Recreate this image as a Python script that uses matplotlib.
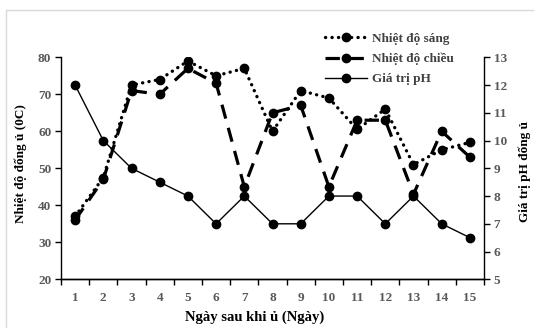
import matplotlib
matplotlib.use("Agg")
import matplotlib.pyplot as plt
from matplotlib.patches import Rectangle

# Data
days = list(range(1, 16))
sang = [37, 47.5, 72.5, 74, 79, 75, 77, 60, 71, 69, 60.5, 66, 51, 55, 57]
chieu = [36, 47, 71, 70, 77, 73, 45, 65, 67, 45, 63, 63, 43, 60, 53]
ph = [12, 10, 9, 8.5, 8, 7, 8, 7, 7, 8, 8, 7, 8, 7, 6.5]

plt.rcParams["font.family"] = ["Liberation Serif", "DejaVu Serif"]
plt.rcParams["font.weight"] = "bold"
tick_col = "#595959"

fig = plt.figure(figsize=(5.34, 3.28), dpi=100)

# light chart-area border
fig.patches.append(Rectangle((6 / 534, -0.05), 1.0, 1 - 10 / 328 + 0.05,
                             transform=fig.transFigure, fill=False,
                             edgecolor="#d9d9d9", linewidth=1.0))

ax1 = fig.add_axes([61 / 534, (328 - 279.3) / 328, 423 / 534, 222 / 328])
ax2 = ax1.twinx()

ax1.plot(days, sang, color="black", linestyle=(0, (0.05, 1.9)), linewidth=2.4,
         marker="o", markersize=6, dash_capstyle="round", label="Nhiệt độ sáng")
ax1.plot(days, chieu, color="black", linestyle=(0, (4.5, 3.0)), linewidth=2.3,
         marker="o", markersize=6, label="Nhiệt độ chiều")
ax2.plot(days, ph, color="black", linestyle="-", linewidth=1.0,
         marker="o", markersize=6, label="Giá trị pH")

ax1.set_xlim(0.5, 15.5)
ax1.set_ylim(20, 80)
ax2.set_ylim(5, 13)
ax1.set_yticks(range(20, 81, 10))
ax2.set_yticks(range(5, 14))

# category axis: tick marks at boundaries, labels at centers
ax1.set_xticks([d - 0.5 for d in days] + [15.5])
ax1.set_xticklabels([])
ax1.set_xticks(days, minor=True)
ax1.set_xticklabels([str(d) for d in days], minor=True)
ax1.tick_params(axis="x", which="minor", length=0, pad=9)
ax1.tick_params(axis="x", which="major", length=4, width=1, direction="out")

for ax in (ax1, ax2):
    ax.spines["top"].set_visible(False)
    for s in ("left", "right", "bottom"):
        ax.spines[s].set_linewidth(1.0)
        ax.spines[s].set_color("black")
    ax.tick_params(axis="y", length=4, width=1, direction="out",
                   labelsize=9.5, labelcolor=tick_col, pad=3)
ax1.tick_params(axis="x", which="both", labelsize=9.5, labelcolor=tick_col)
ax1.spines["right"].set_visible(False)
ax2.spines["left"].set_visible(False)

fig.text(255 / 534, 1 - 317 / 328, "Ngày sau khi ủ (Ngày)", ha="center", va="center",
         fontsize=10.5, fontweight="bold")
fig.text(21 / 534, 1 - 164 / 328, "Nhiệt độ đống ủ (0C)", ha="center", va="center",
         rotation=90, fontsize=9.5, fontweight="bold")
fig.text(525 / 534, 1 - 172 / 328, "Giá trị pH đống ủ", ha="center", va="center",
         rotation=90, fontsize=9.5, fontweight="bold")

h1, l1 = ax1.get_legend_handles_labels()
h2, l2 = ax2.get_legend_handles_labels()
leg = fig.legend(h1 + h2, l1 + l2, loc="upper left",
                 bbox_to_anchor=(318 / 534, 1 - 26 / 328), frameon=False,
                 fontsize=9.5, handlelength=3.2, handletextpad=0.4, labelspacing=0.6,
                 borderpad=0)
for t in leg.get_texts():
    t.set_color("#404040")

fig.savefig("out.png", dpi=100)
